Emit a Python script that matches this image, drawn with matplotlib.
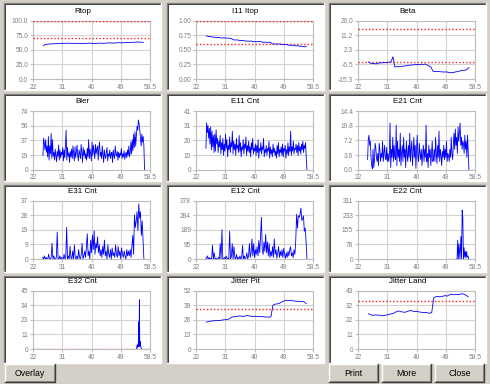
import numpy as np
import matplotlib
matplotlib.use("Agg")
import matplotlib.pyplot as plt
from matplotlib.patches import Rectangle
from matplotlib.lines import Line2D

plt.rcParams['font.family'] = ['Liberation Sans', 'DejaVu Sans']

W, H = 490, 384
BG = '#d4d0c8'

# ---------------- data ----------------
x_tick_labels = ['22', '31', '40', '49', '58.5']
x_lo, x_hi = 22.0, 58.5

rtop = [57.5, 59.5, 60.0, 60.3, 60.5, 61.0, 61.2, 61.0, 61.5, 61.2, 61.0, 61.3, 61.0, 60.8,
        61.0, 61.5, 61.2, 61.0, 61.3, 61.5, 61.2, 61.8, 62.0, 61.5, 62.0, 62.3, 62.0, 62.5,
        62.3, 62.8, 63.0, 63.5, 63.2, 62.8]

i11 = [0.74, 0.73, 0.73, 0.72, 0.72, 0.71, 0.71, 0.71, 0.70, 0.71, 0.70, 0.70, 0.70, 0.69,
       0.67, 0.67, 0.67, 0.66, 0.66, 0.66, 0.65, 0.65, 0.65, 0.65, 0.64, 0.64, 0.64, 0.64,
       0.64, 0.63, 0.63, 0.63, 0.63, 0.62, 0.60, 0.60, 0.60, 0.60, 0.60, 0.59, 0.59, 0.59,
       0.58, 0.58, 0.58, 0.57, 0.57, 0.57, 0.56, 0.56, 0.55, 0.56]

beta = [-5.0, -5.6, -6.0, -5.8, -6.2, -5.8, -5.5, -5.6, -5.3, -5.4, -5.2, -5.1, -5.0, -1.8,
        -8.0, -7.8, -7.9, -7.7, -7.6, -7.5, -7.3, -7.0, -7.0, -6.8, -6.6, -6.7, -6.5, -6.7,
        -6.3, -6.5, -6.2, -6.8, -7.5, -8.0, -10.5, -10.8, -10.7, -10.8, -10.9, -11.0, -11.1,
        -11.0, -11.2, -11.4, -11.5, -11.3, -11.0, -10.8, -10.5, -10.2, -10.0, -10.0, -9.5, -8.3]

bler = [18, 40, 34, 25, 38, 22, 30, 16, 42, 12,
        30, 20, 46, 14, 38, 17, 22, 12, 26, 18,
        10, 23, 17, 31, 12, 25, 15, 22, 19, 28,
        11, 25, 15, 31, 50, 12, 28, 17, 21, 9,
        23, 16, 26, 14, 30, 20, 11, 29, 15, 22,
        31, 18, 11, 25, 20, 14, 32, 22, 9, 28,
        18, 25, 14, 20, 12, 27, 16, 38, 14, 26,
        20, 11, 35, 18, 31, 22, 14, 32, 20, 26,
        30, 12, 28, 35, 17, 22, 14, 30, 20, 9,
        25, 18, 14, 22, 28, 11, 20, 17, 25, 14,
        20, 22, 9, 25, 18, 14, 30, 20, 17, 23,
        12, 22, 15, 21, 18, 27, 14, 20, 16, 24,
        13, 19, 22, 15, 25, 18, 30, 16, 22, 35,
        20, 38, 24, 45, 28, 48, 30, 42, 55, 50,
        63, 58, 50, 40, 30, 45, 35, 42, 30, 0]

e11 = [15, 33, 26, 31, 22, 29, 18, 30, 14, 27,
       16, 24, 12, 25, 13, 28, 18, 22, 12, 20,
       16, 24, 11, 19, 14, 22, 10, 18, 13, 25,
       15, 21, 9, 17, 14, 23, 12, 19, 16, 27,
       11, 20, 14, 18, 10, 22, 15, 17, 12, 24,
       13, 19, 9, 16, 14, 21, 11, 18, 15, 23,
       10, 17, 13, 20, 12, 16, 9, 19, 14, 22,
       11, 15, 13, 18, 10, 17, 12, 21, 8, 15,
       13, 19, 11, 16, 14, 22, 9, 14, 12, 17,
       10, 15, 13, 20, 8, 16, 11, 14, 9, 18,
       12, 15, 10, 13, 8, 17, 11, 19, 9, 14,
       12, 16, 10, 18, 9, 15, 13, 17, 8, 14,
       11, 19, 10, 16, 13, 27, 10, 16, 13, 20,
       11, 15, 14, 18, 12, 17, 10, 19, 13, 16,
       11, 18, 14, 20, 12, 17, 15, 19, 8, 0]

e21 = [2.5, 7.5, 8.5, 6.0, 7.0, 3.0, 1.0, 0.2, 5.0, 0.5,
       2.0, 6.5, 5.5, 3.0, 2.0, 4.0, 1.0, 6.5, 5.0, 2.0,
       4.0, 3.0, 7.0, 2.0, 4.0, 6.0, 3.0, 2.5, 5.5, 2.0,
       4.0, 2.0, 3.5, 11.5, 0.5, 5.0, 3.0, 8.0, 2.0, 6.0,
       3.0, 2.5, 11.0, 1.0, 7.0, 3.0, 5.0, 2.0, 9.0, 1.0,
       4.0, 6.0, 2.0, 8.0, 3.0, 5.0, 0.5, 7.0, 4.0, 2.0,
       6.0, 3.0, 9.0, 2.0, 5.0, 7.0, 1.0, 4.0, 8.0, 3.0,
       6.0, 0.3, 5.0, 8.5, 3.0, 2.0, 6.5, 4.0, 2.5, 5.0,
       1.0, 4.0, 6.0, 2.0, 5.0, 3.0, 11.0, 2.0, 4.0, 0.5,
       6.0, 3.0, 5.0, 1.0, 4.0, 7.0, 2.0, 3.0, 5.0, 2.0,
       8.0, 4.0, 1.5, 6.0, 3.0, 9.5, 2.0, 5.0, 3.5, 1.0,
       4.5, 3.0, 6.0, 2.5, 5.0, 3.0, 7.0, 2.0, 4.0, 3.5,
       2.0, 5.0, 3.0, 8.0, 4.0, 2.5, 6.0, 9.0, 5.0, 10.0,
       6.0, 8.0, 4.0, 10.5, 7.0, 9.0, 11.5, 6.0, 8.0, 5.0,
       7.0, 6.5, 4.0, 8.5, 5.0, 7.0, 3.0, 8.5, 4.0, 0.0]

e31 = [1, 0, 2, 0, 1, 0, 0, 3, 0, 0,
       1, 10, 0, 2, 0, 0, 1, 17, 0, 0,
       2, 0, 1, 0, 0, 3, 0, 1, 20, 0,
       2, 0, 8, 1, 0, 5, 0, 9, 1, 0,
       2, 0, 6, 1, 0, 3, 10, 0, 2, 5,
       1, 8, 16, 2, 5, 0, 12, 4, 15, 6,
       18, 3, 10, 7, 14, 4, 9, 2, 6, 1,
       8, 3, 12, 2, 5, 0, 9, 3, 1, 6,
       0, 7, 2, 4, 1, 9, 3, 1, 8, 2,
       5, 0, 7, 3, 1, 5, 2, 0, 6, 2,
       5, 2, 6, 1, 8, 15, 3, 28, 20, 24,
       30, 18, 35, 26, 30, 15, 24, 12, 0]

e12 = [0, 5, 20, 0, 10, 0, 5, 0, 90, 0,
       40, 0, 5, 0, 0, 10, 0, 100, 0, 190,
       0, 0, 10, 0, 20, 0, 5, 0, 180, 0,
       15, 100, 0, 80, 10, 0, 30, 0, 10, 0,
       20, 0, 5, 90, 0, 20, 0, 10, 40, 0,
       20, 100, 10, 40, 130, 20, 100, 10, 60, 30,
       80, 20, 120, 40, 150, 270, 60, 30, 110, 50,
       160, 40, 110, 20, 100, 10, 50, 20, 80, 10,
       130, 30, 60, 5, 40, 80, 10, 50, 20, 60,
       10, 70, 30, 5, 40, 10, 50, 20, 60, 80,
       20, 40, 10, 60, 30, 120, 290, 200, 280, 270,
       290, 330, 250, 260, 280, 180, 200, 120, 0]

e22_x = [52.6, 52.9, 53.1, 53.3, 53.5, 53.8, 54.1, 54.3, 54.5, 54.7, 54.9, 55.1, 55.3,
         55.5, 55.7, 55.9, 56.1, 56.3, 56.6]
e22 = [0, 0, 100, 0, 80, 0, 120, 0, 260, 220, 0, 60, 10, 40, 5, 40, 10, 15, 0]

e32_x = [54.3, 54.5, 54.6, 54.8, 54.9, 55.0, 55.1, 55.2, 55.3, 55.4, 55.5, 55.6, 55.8]
e32 = [0, 3, 1, 4, 2, 21, 5, 38, 2, 6, 3, 2, 0]

jitter_pit = [24.0, 24.3, 24.8, 25.0, 25.3, 25.2, 25.5, 25.4, 25.8, 26.0, 26.2, 26.5, 27.0,
              28.5, 28.8, 29.0, 29.2, 29.5, 29.3, 29.0, 29.5, 29.8, 29.4, 29.2, 29.0, 29.3,
              29.0, 28.8, 29.0, 28.8, 28.5, 28.6, 28.4, 28.8, 39.0, 40.0, 40.2, 40.5, 41.5,
              42.5, 43.0, 43.5, 43.2, 43.5, 43.0, 42.8, 42.5, 42.6, 42.2, 42.5, 42.0, 40.5]

jitter_land = [26.0, 25.5, 24.8, 25.0, 25.2, 24.9, 25.0, 24.6, 24.5, 25.0, 25.2, 25.5, 26.0,
               26.2, 27.0, 27.8, 28.0, 27.5, 27.3, 27.0, 27.6, 28.0, 28.4, 28.0, 27.6, 27.8,
               27.5, 27.2, 27.0, 26.8, 27.0, 26.6, 26.4, 26.8, 37.5, 38.5, 38.8, 38.5, 38.6,
               39.0, 39.4, 39.0, 39.8, 40.4, 40.2, 40.0, 40.3, 40.0, 40.5, 40.8, 40.2, 39.5, 38.5]

# panel specs: title, y data, x range of samples, y limits, y tick labels, reference lines
panels = [
    ('Rtop', rtop, (25.2, 56.4), (0, 100), ['0.0', '25.0', '50.0', '75.0', '100.0'], [100, 70]),
    ('I11 Itop', i11, (25.2, 56.4), (0, 1), ['0.00', '0.25', '0.50', '0.75', '1.00'], [1.0, 0.6]),
    ('Beta', beta, (25.2, 56.6), (-15.3, 20.0), ['-15.3', '-6.5', '2.3', '11.2', '20.0'], [15.0, -4.9]),
    ('Bler', bler, (25.1, 56.8), (0, 74), ['0', '19', '37', '56', '74'], []),
    ('E11 Cnt', e11, (25.1, 56.6), (0, 41), ['0', '10', '20', '31', '41'], []),
    ('E21 Cnt', e21, (25.0, 56.6), (0, 14.4), ['0.0', '3.6', '7.2', '10.8', '14.4'], []),
    ('E31 Cnt', e31, (25.0, 56.6), (0, 37), ['0', '9', '19', '28', '37'], []),
    ('E12 Cnt', e12, (25.0, 56.6), (0, 378), ['0', '95', '189', '284', '378'], []),
    ('E22 Cnt', e22, e22_x, (0, 311), ['0', '78', '155', '233', '311'], []),
    ('E32 Cnt', e32, e32_x, (0, 45), ['0', '11', '23', '34', '45'], [0]),
    ('Jitter Pit', jitter_pit, (25.2, 56.4), (0, 52), ['0', '13', '26', '39', '52'], [35.5]),
    ('Jitter Land', jitter_land, (25.2, 56.4), (0, 43), ['0', '11', '22', '32', '43'], [35.5]),
]

# ---------------- layout (pixels) ----------------
panel_lefts = [4, 167, 329]
panel_tops = [3, 94, 185, 276]
panel_w, panel_h = 157, 87
ax_lefts = [33, 196, 358]
ax_tops = [20.7, 111.3, 200.7, 290.7]
ax_w, ax_h = 117, 58.3

fig = plt.figure(figsize=(W / 100, H / 100), dpi=100)
fig.patch.set_facecolor(BG)


def fx(px):
    return px / W


def fy(py):
    return 1 - py / H


def fline(xs, ys, color, lw=1.0, z=-1):
    fig.add_artist(Line2D([fx(v) for v in xs], [fy(v) for v in ys],
                          transform=fig.transFigure, color=color, lw=lw, zorder=z))


def sunken(l, t, w, h):
    fig.add_artist(Rectangle((fx(l), fy(t + h)), w / W, h / H, transform=fig.transFigure,
                             facecolor='white', edgecolor='none', zorder=-2))
    fline([l, l, l + w], [t + h, t, t], '#808080')
    fline([l + 1, l + 1, l + w - 1], [t + h - 1, t + 1, t + 1], '#404040', lw=0.7)
    fline([l, l + w, l + w], [t + h, t + h, t], '#ffffff')


def button(l, t, w, h, text):
    fig.add_artist(Rectangle((fx(l), fy(t + h)), w / W, h / H, transform=fig.transFigure,
                             facecolor=BG, edgecolor='none', zorder=-2))
    fline([l, l, l + w], [t + h, t, t], '#ffffff')
    fline([l, l + w, l + w], [t + h, t + h, t], '#404040')
    fline([l + 1, l + w - 1, l + w - 1], [t + h - 1, t + h - 1, t + 1], '#808080', lw=0.7)
    fig.text(fx(l + w / 2), fy(t + h / 2 + 0.5), text, ha='center', va='center',
             fontsize=6.3, color='black')


for k, (title, ys, xs, ylim, ylabels, refs) in enumerate(panels):
    r, c = divmod(k, 3)
    sunken(panel_lefts[c], panel_tops[r], panel_w, panel_h)
    ax = fig.add_axes([fx(ax_lefts[c]), fy(ax_tops[r] + ax_h), ax_w / W, ax_h / H])
    ax.set_facecolor('white')
    if isinstance(xs, tuple):
        xv = np.linspace(xs[0], xs[1], len(ys))
    else:
        xv = np.asarray(xs)
    for rv in refs:
        ax.axhline(rv, color='#ff2020', lw=1.0, ls=(0, (1, 1.5)), zorder=3)
    ax.plot(xv, ys, color='#0000ff', lw=0.6, zorder=4)
    ax.set_xlim(x_lo, x_hi)
    ax.set_ylim(*ylim)
    ax.set_xticks(np.linspace(x_lo, x_hi, 5))
    ax.set_xticklabels(x_tick_labels)
    ax.set_yticks(np.linspace(ylim[0], ylim[1], 5))
    ax.set_yticklabels(ylabels)
    ax.grid(True, color='#d2d2d2', lw=0.8)
    ax.set_axisbelow(True)
    for s in ax.spines.values():
        s.set_color('#bdbdbd')
        s.set_linewidth(0.8)
    ax.tick_params(length=2, width=0.8, color='#bdbdbd', labelsize=4.8,
                   labelcolor='#808080', pad=1.5)
    fig.text(fx(panel_lefts[c] + panel_w / 2), fy(ax_tops[r] - 9.5), title,
             ha='center', va='center', fontsize=5.8, color='black')

button(5, 364, 50, 18, 'Overlay')
button(329, 364, 49, 18, 'Print')
button(382, 364, 49, 18, 'More')
button(435, 364, 49, 18, 'Close')

fig.savefig('out.png', dpi=100, facecolor=BG)
